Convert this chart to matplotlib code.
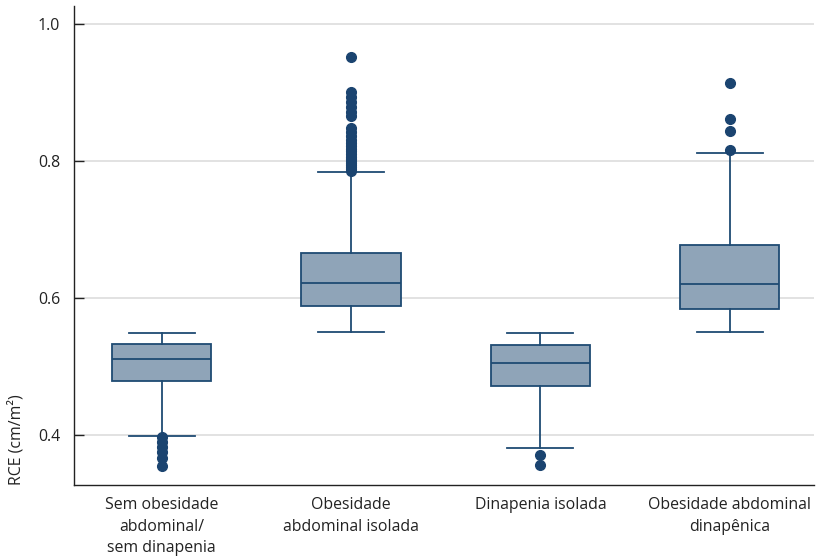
import matplotlib
matplotlib.use("Agg")
from matplotlib import pyplot as plt

plt.rcParams["font.family"] = ["Open Sans", "DejaVu Sans"]

# categories and box statistics
labels = ["Sem obesidade\nabdominal/\nsem dinapenia",
          "Obesidade\nabdominal isolada",
          "Dinapenia isolada",
          "Obesidade abdominal\ndinapênica"]
whislo = [0.399, 0.550, 0.381, 0.550]
q1     = [0.479, 0.588, 0.472, 0.584]
med    = [0.511, 0.622, 0.505, 0.620]
q3     = [0.533, 0.666, 0.531, 0.677]
whishi = [0.549, 0.784, 0.549, 0.812]
fliers = [
    [0.397, 0.390, 0.383, 0.375, 0.366, 0.355],
    [0.785, 0.788, 0.791, 0.794, 0.797, 0.800, 0.803, 0.806, 0.810, 0.814,
     0.818, 0.822, 0.826, 0.831, 0.836, 0.842, 0.848, 0.866, 0.871, 0.879,
     0.886, 0.893, 0.901, 0.952],
    [0.371, 0.356],
    [0.816, 0.844, 0.861, 0.914],
]

EDGE = "#1f4b73"
FILL = "#8fa4b8"
DOT = "#1b4470"
TXT = "#222222"
FS = 11.4

stats = []
for i in range(len(labels)):
    stats.append(dict(whislo=whislo[i], q1=q1[i], med=med[i], q3=q3[i],
                      whishi=whishi[i], fliers=fliers[i], label=labels[i]))

fig = plt.figure(figsize=(8.18, 5.60), dpi=100)
ax = fig.add_axes([0.0905, 0.134, 0.905, 0.855])

ax.bxp(stats, positions=range(4), widths=0.526, patch_artist=True,
       showfliers=True,
       boxprops=dict(facecolor=FILL, edgecolor=EDGE, linewidth=1.3),
       medianprops=dict(color=EDGE, linewidth=1.3),
       whiskerprops=dict(color=EDGE, linewidth=1.3),
       capprops=dict(color=EDGE, linewidth=1.3),
       capwidths=0.35,
       flierprops=dict(marker="o", markerfacecolor=DOT, markeredgecolor=DOT,
                       markersize=7, linestyle="none"),
       zorder=3)

ax.set_xlim(-0.463, 3.447)
ax.set_ylim(0.327, 1.026)
ax.set_yticks([0.4, 0.6, 0.8, 1.0])
ax.set_yticklabels(["0.4", "0.6", "0.8", "1.0"])
ax.yaxis.grid(True, color="#dddddd", linewidth=1.2, zorder=0)
ax.set_axisbelow(True)

for s in ["top", "right"]:
    ax.spines[s].set_visible(False)
for s in ["left", "bottom"]:
    ax.spines[s].set_color(TXT)
    ax.spines[s].set_linewidth(1.0)

ax.tick_params(axis="y", direction="in", length=7, width=1.0, color=TXT,
               labelsize=FS, pad=10, labelcolor=TXT)
ax.tick_params(axis="x", length=0, labelsize=FS, pad=9, labelcolor=TXT)
for t in ax.get_xticklabels():
    t.set_linespacing(1.45)

ax.set_ylabel("RCE (cm/m²)", loc="bottom", fontsize=FS, color=TXT,
              labelpad=10)

fig.savefig("out.png", dpi=100)
